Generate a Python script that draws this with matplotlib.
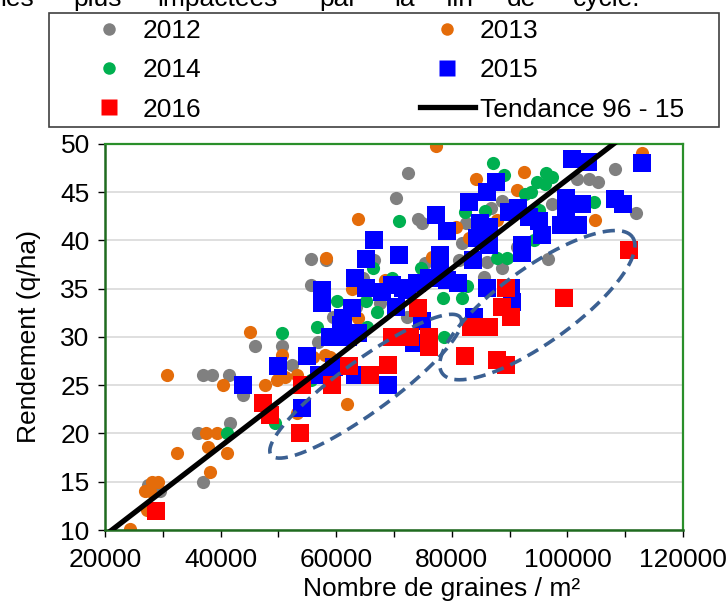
import numpy as np
import matplotlib
matplotlib.use("Agg")
import matplotlib.pyplot as plt
from matplotlib.lines import Line2D
from matplotlib.patches import Rectangle

plt.rcParams['font.family'] = ['Liberation Sans', 'DejaVu Sans']
FS = 19

# ---- data (grains/m², yield q/ha) ----
x2012 = [27400, 29500, 36900, 36100, 41600, 36900, 38500, 41400, 43800, 45900,
         50700, 52300, 56800, 59400, 63500, 67500, 72200, 55700, 55700, 58200,
         64600, 66600, 70300, 72500, 74100, 74900, 75300, 82500, 81800, 81300,
         88600, 86800, 97400, 101700, 103800, 105300, 108200, 111900, 86100, 88600,
         85600, 91200, 96700]
y2012 = [14.7, 14.0, 15.0, 20.1, 21.1, 26.1, 26.1, 26.1, 24.0, 29.1,
         29.1, 27.1, 29.5, 32.1, 33.1, 33.5, 32.1, 35.4, 38.1, 38.0,
         36.1, 38.0, 44.4, 47.0, 42.2, 41.8, 37.7, 41.8, 39.7, 38.0,
         44.1, 43.4, 43.8, 46.4, 46.4, 46.1, 47.4, 42.9, 37.8, 37.2,
         36.2, 39.3, 38.1]

x2013 = [24300, 26900, 27800, 28100, 29200, 27300, 30700, 32400, 37400, 39300,
         37800, 41100, 38100, 40400, 45000, 47600, 49700, 51100, 53300, 50600,
         55900, 58000, 58900, 61800, 53200, 63700, 62800, 58300, 63700, 68500,
         77200, 84200, 92500, 91300, 80800, 83000, 87900, 104800, 112900, 76600]
y2013 = [10.1, 14.0, 14.0, 15.0, 15.0, 12.1, 26.1, 18.0, 20.1, 20.1,
         18.6, 18.0, 16.0, 25.0, 30.5, 25.0, 25.5, 25.9, 26.1, 28.1,
         27.9, 28.1, 27.9, 23.1, 22.1, 32.0, 35.0, 38.2, 42.2, 35.9,
         49.8, 46.4, 47.1, 45.2, 41.4, 40.3, 42.1, 42.1, 49.1, 38.3]

x2014 = [41100, 49400, 50600, 56600, 60100, 65100, 67000, 66300, 69700, 70900,
         74700, 82200, 85800, 95100, 87200, 89100, 96300, 97400, 94800, 96200,
         92700, 93700, 104600, 87900, 89600, 82700, 81700, 78400, 78700, 94300,
         65400, 55700]
y2014 = [20.1, 21.1, 30.4, 31.0, 33.7, 33.7, 32.6, 37.1, 36.1, 42.0,
         37.2, 43.0, 43.1, 43.2, 48.0, 46.8, 47.0, 46.6, 46.1, 45.9,
         44.8, 45.0, 44.0, 38.2, 38.2, 35.3, 34.0, 34.0, 30.0, 40.0,
         31.0, 25.5]

x2015 = [43800, 49900, 54000, 54900, 57100, 59700, 63200, 68900, 58900, 62000,
         63700, 60900, 61100, 62800, 57600, 57600, 65200, 68000, 63300, 65100,
         66500, 70900, 69700, 72200, 70400, 73900, 76100, 77300, 79100, 77900,
         77900, 79200, 81000, 82900, 86100, 87700, 83600, 84400, 84900, 86500,
         86500, 89900, 91500, 93400, 95100, 95600, 92200, 92200, 98900, 101900,
         99800, 99800, 102600, 108200, 109600, 100800, 103600, 112900, 86100, 90300,
         90500, 83900, 74900, 73500, 71500]
y2015 = [25.0, 27.0, 22.6, 28.0, 26.1, 26.9, 26.1, 25.0, 30.0, 30.0,
         30.4, 31.2, 32.0, 33.0, 33.5, 34.9, 35.1, 34.7, 36.1, 38.1,
         40.0, 38.5, 35.4, 34.9, 33.1, 35.6, 36.1, 42.6, 41.0, 38.5,
         37.6, 35.9, 35.6, 44.0, 45.0, 46.1, 38.0, 40.3, 41.8, 41.4,
         39.5, 43.0, 43.4, 42.4, 42.0, 40.6, 39.5, 38.7, 41.6, 41.6,
         44.4, 43.4, 43.8, 44.3, 43.8, 48.4, 48.1, 48.0, 35.1, 35.1,
         33.6, 32.1, 31.7, 29.4, 35.1]

x2016 = [28800, 47300, 48500, 53700, 54000, 59200, 62300, 65800, 68900, 69600,
         72700, 74100, 76100, 76100, 82200, 83400, 86500, 88600, 89300, 90300,
         87900, 89400, 99400, 110700]
y2016 = [12.0, 23.2, 21.9, 20.1, 25.0, 25.0, 27.0, 26.1, 27.1, 30.0,
         30.0, 33.0, 30.0, 29.0, 28.0, 31.0, 31.0, 33.1, 35.1, 32.1,
         27.6, 27.1, 34.0, 39.0]

# trend line 96-15: yield = slope * grains + intercept
TREND_SLOPE = 0.000461
TREND_INTERCEPT = 0.23

# highlighted zones: centre (data), semi-axes (px), angle (deg)
ZONE_CENTERS = [(65100, 24.9), (94800, 33.3)]
ZONE_SEMI_AXES = [(117, 26), (117, 37.5)]
ZONE_ANGLES = [36, 35.6]

X_TICKS = [20000, 40000, 60000, 80000, 100000, 120000]
Y_TICKS = [10, 15, 20, 25, 30, 35, 40, 45, 50]

TOP_WORDS = ["les", "plus", "impactées", "par", "la", "fin", "de", "cycle."]
TOP_WORD_X = [0, 73, 157, 319, 394, 446, 507, 573]

C2012, C2013, C2014, C2015, C2016 = '#808080', '#E46C0A', '#00B050', '#0000FF', '#FF0000'

W, H = 727, 605
fig = plt.figure(figsize=(W / 100, H / 100), dpi=100)
ax = fig.add_axes([105 / W, 1 - 530 / H, 578 / W, 386 / H])

ax.set_xlim(20000, 120000)
ax.set_ylim(10, 50)
ax.set_axisbelow(True)
ax.yaxis.grid(True, color='#D9D9D9', lw=1.2)

S_CIRC, S_SQ = 90, 160
ax.scatter(x2012, y2012, s=S_CIRC, c=C2012, marker='o', linewidths=0, zorder=2)
ax.scatter(x2013, y2013, s=S_CIRC, c=C2013, marker='o', linewidths=0, zorder=2)
ax.scatter(x2014, y2014, s=S_CIRC, c=C2014, marker='o', linewidths=0, zorder=2)
ax.scatter(x2015, y2015, s=S_SQ, c=C2015, marker='s', linewidths=0, zorder=3)
ax.scatter(x2016, y2016, s=S_SQ, c=C2016, marker='s', linewidths=0, zorder=3)

tx = np.array([20000, 120000])
ax.plot(tx, TREND_SLOPE * tx + TREND_INTERCEPT, color='black', lw=3.8, zorder=4,
        solid_capstyle='butt')

# ellipses drawn in display space, converted back to data
t = np.linspace(0, 2 * np.pi, 400)
for (cx, cy), (a, b), ang in zip(ZONE_CENTERS, ZONE_SEMI_AXES, ZONE_ANGLES):
    c = ax.transData.transform((cx, cy))
    th = np.deg2rad(ang)
    ex = a * np.cos(t)
    ey = b * np.sin(t)
    px = c[0] + ex * np.cos(th) - ey * np.sin(th)
    py = c[1] + ex * np.sin(th) + ey * np.cos(th)
    d = ax.transData.inverted().transform(np.column_stack([px, py]))
    ax.plot(d[:, 0], d[:, 1], color='#3B6092', lw=2.6, ls=(0, (3.4, 2.0)), zorder=5)

ax.set_xticks(X_TICKS)
ax.set_xticklabels([str(v) for v in X_TICKS])
ax.set_xticks(np.arange(20000, 120001, 10000), minor=True)
ax.set_yticks(Y_TICKS)
ax.tick_params(axis='both', which='both', direction='out', length=5, width=1,
               color='black', labelsize=FS)
ax.tick_params(axis='x', pad=8)
ax.tick_params(axis='y', pad=6)

for side in ['top', 'right']:
    ax.spines[side].set_color('#2A8F2A')
    ax.spines[side].set_linewidth(1.6)
for side in ['left', 'bottom']:
    ax.spines[side].set_color('#1F6B1F')
    ax.spines[side].set_linewidth(1.8)

ax.set_ylabel('Rendement (q/ha)', fontsize=FS)
ax.set_xlabel('Nombre de graines / m²', fontsize=FS)
ax.yaxis.set_label_coords((41 - 105) / 578, 0.5)
ax.xaxis.set_label_coords((442 - 105) / 578, (530 - 577) / 386)

# legend
handles = [
    Line2D([], [], ls='none', marker='o', ms=9, mfc=C2012, mec='none'),
    Line2D([], [], ls='none', marker='o', ms=9, mfc=C2014, mec='none'),
    Line2D([], [], ls='none', marker='s', ms=11, mfc=C2016, mec='none'),
    Line2D([], [], ls='none', marker='o', ms=9, mfc=C2013, mec='none'),
    Line2D([], [], ls='none', marker='s', ms=11, mfc=C2015, mec='none'),
    Line2D([], [], color='black', lw=3.8),
]
labels = ['2012', '2014', '2016', '2013', '2015', 'Tendance 96 - 15']
fig.legend(handles, labels, ncol=2, loc='upper left',
           bbox_to_anchor=(82 / W, 1 - 19 / H), frameon=False, fontsize=FS,
           handlelength=2.08, handletextpad=0.2, columnspacing=8.3,
           borderpad=0, borderaxespad=0, labelspacing=0.58)
fig.patches.append(Rectangle((49 / W, 1 - 127 / H), 670 / W, 114 / H,
                             transform=fig.transFigure, fill=False,
                             edgecolor='#404040', lw=1.2))

for wtxt, wx in zip(TOP_WORDS, TOP_WORD_X):
    fig.text(wx / W, 1 - 6 / H, wtxt, fontsize=FS, va='baseline', ha='left')

fig.savefig('out.png', dpi=100)
